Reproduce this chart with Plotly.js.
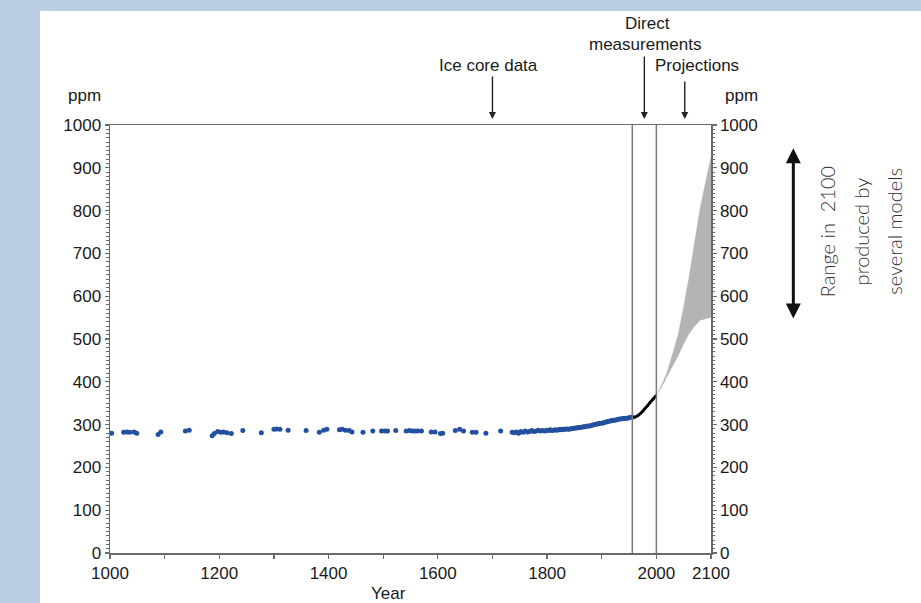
<!DOCTYPE html>
<html>
<head>
<meta charset="utf-8">
<script src="https://cdn.plot.ly/plotly-3.0.1.min.js"></script>
<style>
  html, body { margin: 0; padding: 0; background: #bccee3; width: 921px; height: 603px; overflow: hidden; }
  #chart { position: absolute; left: 40px; top: 11px; width: 881px; height: 592px; background: #ffffff; }
</style>
</head>
<body>
<div id="chart"></div>
<script>
// ---- Data ----
const iceYears = [1003, 1025, 1031, 1036, 1044, 1049, 1088, 1093, 1138, 1145, 1187, 1191, 1197, 1203, 1208, 1214, 1222,
  1243, 1277, 1300, 1305, 1311, 1326, 1359, 1383, 1391, 1397, 1420, 1425, 1431, 1438, 1443, 1463, 1481, 1497, 1503, 1508,
  1523, 1542, 1548, 1553, 1558, 1563, 1570, 1588, 1595, 1605, 1609, 1632, 1640, 1647, 1663, 1670, 1688, 1715, 1736,
  1740, 1744, 1748, 1752, 1756, 1760, 1764, 1768, 1772, 1776, 1780, 1784, 1788, 1792, 1796, 1800, 1803, 1806, 1809, 1812,
  1815, 1818, 1821, 1824, 1827, 1830, 1833, 1836, 1839, 1842, 1845, 1848, 1851, 1854, 1857, 1860, 1863, 1866, 1869, 1872,
  1875, 1878, 1881, 1884, 1887, 1890, 1893, 1896, 1899, 1902, 1905, 1908, 1911, 1914, 1917, 1920, 1923, 1926, 1929, 1932,
  1935, 1938, 1941, 1944, 1947, 1950, 1953, 1956];
const iceCO2 = [280, 282, 283, 282, 283, 280, 277, 283, 285, 287, 274, 279, 284, 282, 283, 281, 279,
  286, 281, 289, 290, 289, 287, 286, 282, 287, 289, 288, 289, 287, 286, 283, 282, 285, 285, 285, 285,
  286, 285, 286, 285, 285, 285, 285, 283, 283, 279, 280, 286, 289, 285, 282, 282, 280, 285, 282,
  281, 283, 280, 284, 282, 285, 283, 284, 286, 284, 285, 287, 285, 286, 285, 287, 286, 288, 286, 287,
  288, 287, 288, 289, 288, 289, 289, 290, 289, 290, 291, 291, 292, 292, 293, 293, 294, 295, 295, 296,
  297, 297, 298, 299, 300, 301, 302, 303, 303, 304, 305, 306, 307, 308, 309, 310, 310, 311, 312, 313,
  313, 314, 314, 315, 315, 316, 317, 318];

const directYears = [1958, 1965, 1970, 1975, 1980, 1985, 1990, 1995, 2000];
const directCO2 = [316, 320, 325, 331, 339, 346, 354, 361, 369];

const projYears = [2000, 2010, 2020, 2030, 2040, 2050, 2060, 2070, 2080, 2090, 2100];
const projLow  = [369, 388, 413, 435, 460, 488, 512, 530, 543, 547, 550];
const projHigh = [369, 393, 423, 465, 510, 575, 645, 725, 805, 865, 925];

const periodLines = [1956, 2000];

const xTickVals = [1000, 1100, 1200, 1300, 1400, 1500, 1600, 1700, 1800, 1900, 2000, 2100];
const xTickText = ['1000', '', '1200', '', '1400', '', '1600', '', '1800', '', '2000', '2100'];
const yTickVals = [0, 100, 200, 300, 400, 500, 600, 700, 800, 900, 1000];
const yTickText = ['0', '100', '200', '300', '400', '500', '600', '700', '800', '900', '1000'];

const arrowYears = {ice: 1700, direct: 1978, proj: 2052};

// ---- Styles ----
const FONT = 'Liberation Sans, Arial, sans-serif';
const TXT = '#1a1a1a';
const AX = '#6a6a6a';
const fs = 17;

const traces = [
  { x: projYears, y: projLow, type: 'scatter', mode: 'lines', line: {width: 0, color: '#b4b4b4'}, hoverinfo: 'skip', showlegend: false },
  { x: projYears, y: projHigh, type: 'scatter', mode: 'lines', fill: 'tonexty', fillcolor: '#b4b4b4',
    line: {width: 0.5, color: '#b4b4b4'}, hoverinfo: 'skip', showlegend: false },
  { x: iceYears, y: iceCO2, type: 'scatter', mode: 'markers',
    marker: {size: 5, color: '#23509e'}, showlegend: false },
  { x: directYears, y: directCO2, type: 'scatter', mode: 'lines',
    line: {width: 3, color: '#000000', shape: 'spline'}, showlegend: false },
  { x: [], y: [], yaxis: 'y2', type: 'scatter', showlegend: false }
];

const shapes = periodLines.map(yr => ({
  type: 'line', xref: 'x', yref: 'paper', x0: yr, x1: yr, y0: 0, y1: 1,
  line: {color: '#7a7a7a', width: 1.5}, layer: 'above'
}));

function txt(text, x, y, extra) {
  return Object.assign({ text: text, xref: 'paper', yref: 'paper', x: x, y: y, showarrow: false,
    xanchor: 'center', yanchor: 'middle', font: {family: FONT, size: fs, color: TXT} }, extra || {});
}
function arrow(xval, ay) {
  return { text: '', xref: 'x', yref: 'paper', x: xval, y: 1.014, showarrow: true,
    ax: 0, ay: ay, arrowhead: 2, arrowsize: 1, arrowwidth: 1.4, arrowcolor: '#222222' };
}
const sideFont = {family: 'Lato, Noto Sans, sans-serif', size: 20, color: '#333333', weight: 300};

const annotations = [
  txt('Ice core data', 0.629, 1.138),
  arrow(arrowYears.ice, -44),
  txt('Direct', 0.895, 1.236),
  txt('measurements', 0.891, 1.188),
  arrow(arrowYears.direct, -64),
  txt('Projections', 0.977, 1.138),
  arrow(arrowYears.proj, -39),
  txt('ppm', -0.042, 1.068),
  txt('ppm', 1.050, 1.068),
  txt('Year', 0.464, -0.095),
  { text: '', xref: 'paper', yref: 'paper', x: 1.137, y: 0.9456, showarrow: true, ax: 0, ay: 171.7,
    arrowhead: 2, arrowside: 'end+start', arrowsize: 1, arrowwidth: 3, arrowcolor: '#111111' },
  txt('Range in  2100', 1.193, 0.752, {textangle: -90, font: sideFont}),
  txt('produced by', 1.250, 0.752, {textangle: -90, font: sideFont}),
  txt('several models', 1.304, 0.752, {textangle: -90, font: sideFont})
];

const layout = {
  width: 881, height: 592,
  margin: {l: 70, r: 210, t: 114, b: 50},
  paper_bgcolor: '#ffffff', plot_bgcolor: '#ffffff',
  showlegend: false,
  font: {family: FONT, size: fs, color: TXT},
  xaxis: {
    range: [1000, 2100], showgrid: false, zeroline: false,
    showline: true, linecolor: AX, linewidth: 1.5, mirror: true,
    tickmode: 'array', tickvals: xTickVals, ticktext: xTickText,
    ticks: 'outside', ticklen: 4, tickcolor: AX, tickwidth: 1.2,
    tickfont: {family: FONT, size: fs, color: TXT}
  },
  yaxis: {
    range: [0, 1000], showgrid: false, zeroline: false,
    showline: true, linecolor: AX, linewidth: 1.5,
    tickmode: 'array', tickvals: yTickVals, ticktext: yTickText,
    ticks: 'outside', ticklen: 4, tickcolor: AX, tickwidth: 1.2,
    minor: {dtick: 10, ticks: 'outside', ticklen: 2.5, tickcolor: AX, tickwidth: 1},
    tickfont: {family: FONT, size: fs, color: TXT}
  },
  yaxis2: {
    range: [0, 1000], overlaying: 'y', side: 'right', anchor: 'x', showgrid: false, zeroline: false,
    showline: true, linecolor: AX, linewidth: 1.5,
    tickmode: 'array', tickvals: yTickVals, ticktext: yTickText,
    ticks: 'outside', ticklen: 4, tickcolor: AX, tickwidth: 1.2,
    minor: {dtick: 10, ticks: 'outside', ticklen: 2.5, tickcolor: AX, tickwidth: 1},
    tickfont: {family: FONT, size: fs, color: TXT}
  },
  shapes: shapes,
  annotations: annotations
};

Plotly.newPlot('chart', traces, layout, {displayModeBar: false, staticPlot: true});
</script>
</body>
</html>
